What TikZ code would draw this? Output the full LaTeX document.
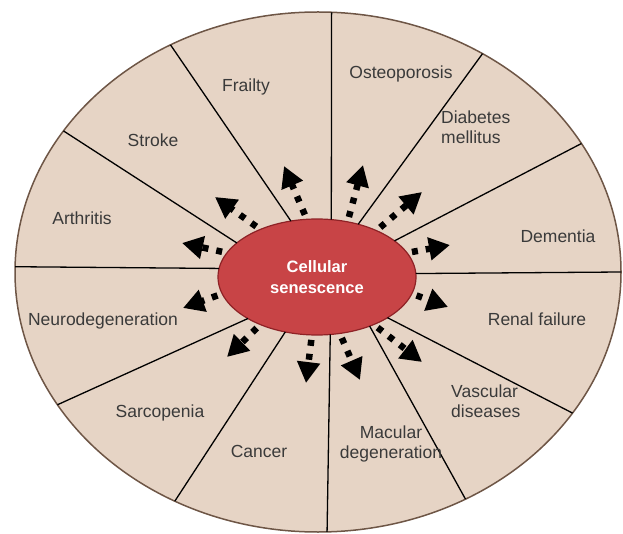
\documentclass[tikz,border=0pt]{standalone}
\usepackage{fontspec}
\setmainfont{Liberation Sans}
\usepackage{tikz}
\usetikzlibrary{shapes.geometric}
\usetikzlibrary{arrows.meta}
\definecolor{skin}{HTML}{E6D4C5}
\definecolor{rimline}{HTML}{6E5646}
\definecolor{cellred}{HTML}{C84446}
\definecolor{cellline}{HTML}{8E2226}
\definecolor{txt}{HTML}{3A3A3A}
\tikzset{
  lbl/.style={text=txt, font=\fontsize{17.5}{20}\selectfont, inner sep=0pt, text height=12.5pt, text depth=3.5pt},
  sep/.style={line width=1.3pt},
  spray/.style={line width=6.5pt, dash pattern=on 6pt off 8pt, dash phase=9pt,
    -{Triangle[length=21pt,width=22pt]}}}

\begin{document}
\begin{tikzpicture}[x=1pt,y=-1pt]
  \useasboundingbox (0,0) rectangle (623,534);
  \node [ellipse, draw=rimline, fill=skin, line width=1.5pt, minimum width=606pt, minimum height=520pt, inner sep=0pt, outer sep=0pt] (rim) at (318,272) {};
  \node [ellipse, draw=cellline, fill=cellred, line width=1.2pt, minimum width=198pt, minimum height=116pt, inner sep=0pt, outer sep=0pt,
         text=white, font=\bfseries\fontsize{16.5}{20.5}\selectfont, align=center] (cell) at (317,277) {Cellular\\senescence};
  % sector borders
  \draw [sep] (cell.115.7) -- (rim.123.3);
  \draw [sep] (cell.76.4) -- (rim.87.1);
  \draw [sep] (cell.52.6) -- (rim.53.6);
  \draw [sep] (cell.157.5) -- (rim.151.7);
  \draw [sep] (cell.25.4) -- (rim.26.1);
  \draw [sep] (cell.175.9) -- (rim.179.6);
  \draw [sep] (cell.2.9) -- (rim.0);
  \draw [sep] (cell.211) -- (rim.207.1);
  \draw [sep] (cell.240.3) -- (rim.238.9);
  \draw [sep] (cell.283.6) -- (rim.272.9);
  \draw [sep] (cell.317.8) -- (rim.303.9);
  \draw [sep] (cell.330.8) -- (rim.331.5);
  % arrow tips
    \coordinate (t1) at (284,166);
    \coordinate (t2) at (363,165);
      \coordinate (t3) at (215,197);
      \coordinate (t4) at (422,192);
        \coordinate (t5) at (182,243);
        \coordinate (t6) at (450,245);
          \coordinate (t7) at (183,308);
          \coordinate (t8) at (448,307);
            \coordinate (t9) at (227,357);
            \coordinate (t10) at (422,362);
              \coordinate (t11) at (306,383);
              \coordinate (t12) at (360,380);
  \draw [spray] (cell.100) -- (t1);
  \draw [spray] (cell.61.5) -- (t2);
  \draw [spray] (cell.140) -- (t3);
  \draw [spray] (cell.38) -- (t4);
  \draw [spray] (cell.165) -- (t5);
  \draw [spray] (cell.15) -- (t6);
  \draw [spray] (cell.190) -- (t7);
  \draw [spray] (cell.350) -- (t8);
  \draw [spray] (cell.220) -- (t9);
  \draw [spray] (cell.320) -- (t10);
  \draw [spray] (cell.265) -- (t11);
  \draw [spray] (cell.292) -- (t12);
  % diseases
  \node [lbl] (frailty) at (246,87) {Frailty};
  \node [lbl] (osteo) at (401,74) {Osteoporosis};
  \node [lbl] (stroke) at (153,142) {Stroke};
  \node [lbl, anchor=west, align=left] (diabetes) at (441,139) {Diabetes\\mellitus};
  \node [lbl] (arthritis) at (82,220) {Arthritis};
  \node [lbl] (dementia) at (558,238) {Dementia};
  \node [lbl] (neuro) at (103,321) {Neurodegeneration};
  \node [lbl] (renal) at (537,321) {Renal failure};
  \node [lbl] (sarco) at (160,413) {Sarcopenia};
  \node [lbl, anchor=west, align=left] (vascular) at (451,413) {Vascular\\diseases};
  \node [lbl] (cancer) at (259,453) {Cancer};
  \node [lbl, align=center] (macular) at (391,454) {Macular\\degeneration};
\end{tikzpicture}
\end{document}
